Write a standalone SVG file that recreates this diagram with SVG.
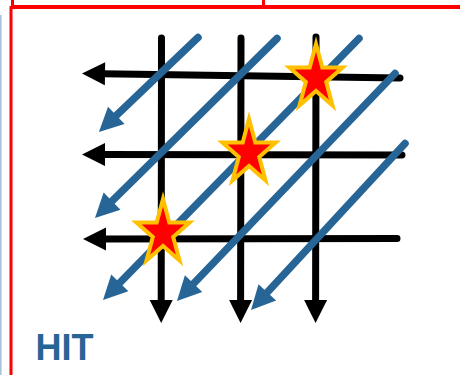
<svg xmlns="http://www.w3.org/2000/svg" width="460" height="375" viewBox="0 0 460 375">
  <style>
    .frame { fill: none; stroke: #FF0000; stroke-width: 3; }
    .blk { fill: none; stroke: #000000; stroke-width: 7; stroke-linecap: round; }
    .blu { fill: none; stroke: #276596; stroke-width: 7.5; stroke-linecap: round; }
    .star { fill: #FF0000; stroke: #FFC000; stroke-width: 4; stroke-linejoin: miter; }
    .label { font-family: "Liberation Sans", Arial, sans-serif; font-weight: bold; font-size: 36px; fill: #276596; }
  </style>
  <defs>
    <marker id="ahBlack" markerUnits="userSpaceOnUse" markerWidth="40" markerHeight="40" viewBox="-10 -20 40 40" refX="0" refY="0" orient="auto">
      <path d="M -3,-11.5 L 20,0 L -3,11.5 Z" fill="#000000"/>
    </marker>
    <marker id="ahBlue" markerUnits="userSpaceOnUse" markerWidth="40" markerHeight="40" viewBox="-10 -20 40 40" refX="0" refY="0" orient="auto">
      <path d="M -4,-12 L 20,0 L -4,12 Z" fill="#276596"/>
    </marker>
    <path id="starShape" class="star" d="M 0,-34 L 6.3,-10.5 L 26.6,-10.5 L 10.2,4 L 16.5,27.5 L 0,13 L -16.5,27.5 L -10.2,4 L -26.6,-10.5 L -6.3,-10.5 Z"/>
  </defs>

  <g id="frames">
    <line x1="0.8" y1="15" x2="0.8" y2="375" stroke="#A9C3DA" stroke-width="1.6"/>
    <polyline class="frame" points="12.5,0 12.5,6.5 263.5,6.5 263.5,0"/>
    <line class="frame" x1="263.5" y1="6.5" x2="460" y2="6.5"/>
    <polyline class="frame" points="11,375 11,7.5 460,7.5"/>
  </g>

  <g id="connectors">
    <g id="grid">
      <line class="blk" x1="400" y1="78" x2="102" y2="73.8" marker-end="url(#ahBlack)"/>
      <line class="blk" x1="402" y1="155" x2="102" y2="154.5" marker-end="url(#ahBlack)"/>
      <line class="blk" x1="397" y1="238.5" x2="103" y2="239" marker-end="url(#ahBlack)"/>
      <line class="blk" x1="161.5" y1="38" x2="161.2" y2="303" marker-end="url(#ahBlack)"/>
      <line class="blk" x1="241" y1="38" x2="240.6" y2="303" marker-end="url(#ahBlack)"/>
      <line class="blk" x1="316" y1="37" x2="315.6" y2="303" marker-end="url(#ahBlack)"/>
    </g>
    <g id="diagonals">
      <line class="blu" x1="198" y1="37.5" x2="113.4" y2="118.2" marker-end="url(#ahBlue)"/>
      <line class="blu" x1="277" y1="38.5" x2="109.2" y2="203.9" marker-end="url(#ahBlue)"/>
      <line class="blu" x1="359" y1="38.5" x2="117" y2="285.7" marker-end="url(#ahBlue)"/>
      <line class="blu" x1="395" y1="73.5" x2="190.8" y2="286.5" marker-end="url(#ahBlue)"/>
      <line class="blu" x1="405" y1="143.5" x2="264.6" y2="295.3" marker-end="url(#ahBlue)"/>
    </g>
  </g>

  <g id="star1"><use href="#starShape" x="316" y="78"/></g>
  <g id="star2"><use href="#starShape" x="249" y="153"/></g>
  <g id="star3"><use href="#starShape" x="163" y="233"/></g>

  <g id="label-hit">
    <text class="label" x="35.5" y="360">HIT</text>
  </g>
</svg>
